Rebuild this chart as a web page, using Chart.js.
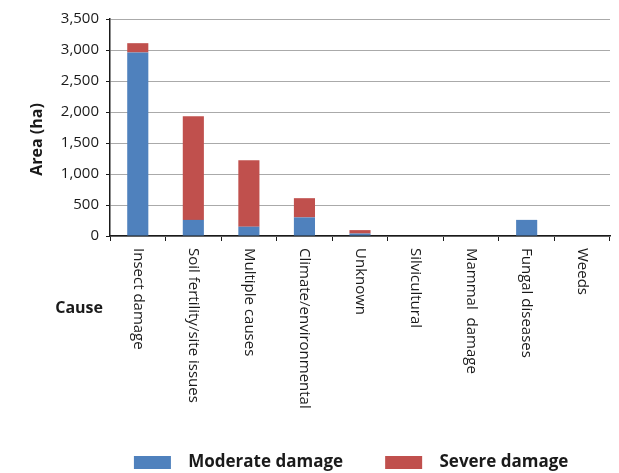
<!DOCTYPE html>
<html>
<head>
<meta charset="utf-8">
<title>Area damaged by cause</title>
<script src="https://cdn.jsdelivr.net/npm/chart.js@4.4.1/dist/chart.umd.min.js"></script>
<style>
  html, body { margin: 0; padding: 0; background: #fff; }
  #wrap { width: 619px; height: 473px; }
</style>
</head>
<body>
<div id="wrap"><canvas id="causeChart"></canvas></div>
<script>
const causes = ['Insect damage', 'Soil fertility/site issues', 'Multiple causes', 'Climate/environmental',
  'Unknown', 'Silvicultural', 'Mammal  damage', 'Fungal diseases', 'Weeds'];
const moderate = [2960, 260, 150, 300, 40, 0, 0, 260, 0];
const severe = [150, 1670, 1070, 310, 55, 0, 0, 0, 0];
const yMax = 3500;
const yStep = 500;

const FONT = '"Open Sans", sans-serif';
const INK = '#1a1a1a';

// x labels read top-to-bottom, plus the "Cause" and y titles placed by hand
const causeLabels = {
  id: 'causeLabels',
  afterDraw(chart) {
    const ctx = chart.ctx;
    const xs = chart.scales.x;
    const area = chart.chartArea;
    ctx.save();
    ctx.fillStyle = INK;
    ctx.font = '15px ' + FONT;
    ctx.textAlign = 'left';
    ctx.textBaseline = 'middle';
    causes.forEach((c, i) => {
      ctx.save();
      ctx.translate(xs.getPixelForValue(i), xs.top + 12);
      ctx.rotate(Math.PI / 2);
      ctx.fillText(c, 0, 0);
      ctx.restore();
    });
    ctx.font = 'bold 16px ' + FONT;
    ctx.textAlign = 'right';
    ctx.fillText('Cause', area.left - 7, xs.top + 72);

    ctx.translate(area.left - 73, (area.top + area.bottom) / 2 + 12);
    ctx.rotate(-Math.PI / 2);
    ctx.textAlign = 'center';
    ctx.fillText('Area (ha)', 0, 0);
    ctx.restore();
  }
};

new Chart(document.getElementById('causeChart').getContext('2d'), {
  type: 'bar',
  data: {
    labels: causes,
    datasets: [{
      label: 'Moderate damage',
      data: moderate,
      backgroundColor: '#4f81bd',
      barPercentage: 0.38,
      categoryPercentage: 1
    }, {
      label: 'Severe damage',
      data: severe,
      backgroundColor: '#c0504d',
      barPercentage: 0.38,
      categoryPercentage: 1
    }]
  },
  options: {
    responsive: true,
    maintainAspectRatio: false,
    animation: false,
    layout: { padding: { top: 19, right: 9, left: 0, bottom: 0 } },
    plugins: {
      tooltip: { enabled: false },
      legend: {
        position: 'bottom',
        fullSize: false,
        maxHeight: 39,
        labels: {
          boxWidth: 37,
          boxHeight: 13,
          padding: 20,
          color: INK,
          font: { family: FONT, size: 17, weight: 'bold' },
          generateLabels(chart) {
            const items = Chart.defaults.plugins.legend.labels.generateLabels(chart);
            // extra spaces widen the gaps box->text and item->item
            items[0].text = '  ' + items[0].text + '     ';
            items[1].text = '  ' + items[1].text + '    ';
            items.forEach(it => { it.lineWidth = 0; });
            return items;
          }
        }
      }
    },
    scales: {
      x: {
        stacked: true,
        ticks: { display: false },
        grid: { drawOnChartArea: false, drawTicks: true, tickLength: 5, color: INK, offset: true },
        border: { color: INK, width: 1.5 },
        afterFit(scale) { scale.height = 198; }
      },
      y: {
        stacked: true,
        min: 0,
        max: yMax,
        ticks: {
          stepSize: yStep,
          padding: 7,
          color: INK,
          font: { family: FONT, size: 15 },
          callback: v => v.toLocaleString('en-US')
        },
        grid: { color: '#aaaaaa', tickColor: INK, tickLength: 4 },
        border: { color: INK, width: 1.5 },
        afterFit(scale) { scale.width = 110; }
      }
    }
  },
  plugins: [causeLabels]
});
</script>
</body>
</html>
